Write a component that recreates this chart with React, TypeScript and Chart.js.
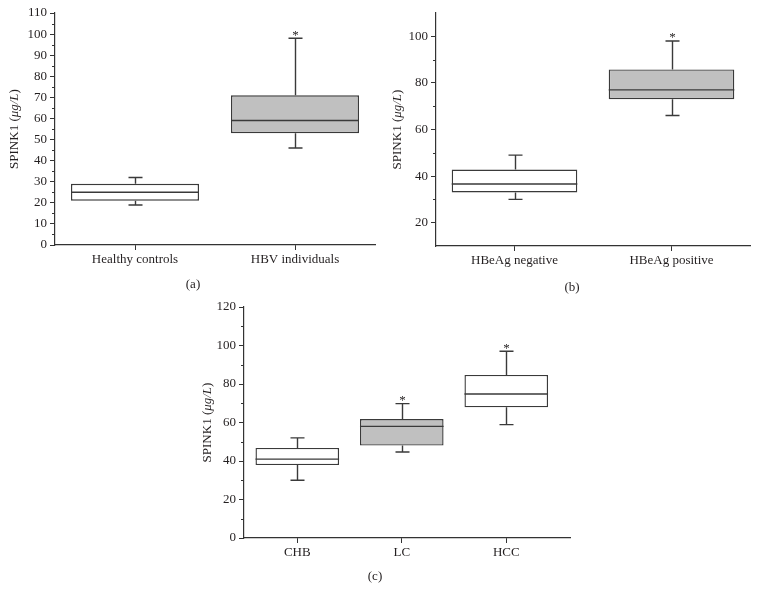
import React, { useEffect, useRef } from "react";
import { Chart, registerables } from "chart.js";
Chart.register(...registerables);

const FONT = "'Liberation Serif', 'Times New Roman', serif";
const TEXT = "#231f20";
const AXIS = "#333333";
const BOX_STROKE = "#3a3a3a";
const GRAY = "#c0c0c0";
const WHITE = "#ffffff";

// ---- Panel (a) ----
const aCategories = ["Healthy controls", "HBV individuals"];
const aMin = [19, 46];
const aQ1 = [21, 53];
const aMedian = [25, 59];
const aQ3 = [29, 71];
const aMax = [32, 98];
const aSignificant = [false, true];
const aYTicks = [0, 10, 20, 30, 40, 50, 60, 70, 80, 90, 100, 110];
const aYMinor = [5, 15, 25, 35, 45, 55, 65, 75, 85, 95, 105];

// ---- Panel (b) ----
const bCategories = ["HBeAg negative", "HBeAg positive"];
const bMin = [30, 66];
const bQ1 = [33, 73];
const bMedian = [36.6, 77];
const bQ3 = [42.8, 85.8];
const bMax = [49, 98];
const bSignificant = [false, true];
const bYTicks = [20, 40, 60, 80, 100];
const bYMinor = [30, 50, 70, 90];

// ---- Panel (c) ----
const cCategories = ["CHB", "LC", "HCC"];
const cMin = [30, 44.7, 58.9];
const cQ1 = [37.9, 48, 67.9];
const cMedian = [41, 58, 74.8];
const cQ3 = [46.8, 61.8, 84.7];
const cMax = [52, 69.8, 97];
const cSignificant = [false, true, true];
const cYTicks = [0, 20, 40, 60, 80, 100, 120];
const cYMinor = [10, 30, 50, 70, 90, 110];

type PanelDef = {
  key: string;
  left: number; top: number; width: number; height: number;
  area: { l: number; t: number; r: number; b: number };
  xMin: number; xMax: number; yMin: number; yMax: number;
  yTicks: number[]; yMinor: number[];
  categories: string[];
  min: number[]; q1: number[]; med: number[]; q3: number[]; max: number[];
  sig: boolean[]; fills: string[];
  label: string; labelX: number; labelY: number; titleOffset: number;
};

const panels: PanelDef[] = [
  {
    key: "a", left: 0, top: 0, width: 380, height: 300,
    area: { l: 55, t: 13, r: 375, b: 245 },
    xMin: 0.5, xMax: 2.5, yMin: 0, yMax: 110,
    yTicks: aYTicks, yMinor: aYMinor, categories: aCategories,
    min: aMin, q1: aQ1, med: aMedian, q3: aQ3, max: aMax,
    sig: aSignificant, fills: [WHITE, GRAY],
    label: "(a)", labelX: 193, labelY: 285, titleOffset: 40,
  },
  {
    key: "b", left: 380, top: 0, width: 378, height: 300,
    area: { l: 56, t: 13, r: 370, b: 246 },
    xMin: 0.5, xMax: 2.5, yMin: 10, yMax: 110,
    yTicks: bYTicks, yMinor: bYMinor, categories: bCategories,
    min: bMin, q1: bQ1, med: bMedian, q3: bQ3, max: bMax,
    sig: bSignificant, fills: [WHITE, GRAY],
    label: "(b)", labelX: 192, labelY: 288, titleOffset: 38,
  },
  {
    key: "c", left: 180, top: 290, width: 400, height: 311,
    area: { l: 64, t: 17, r: 390, b: 248 },
    xMin: 0.49, xMax: 3.61, yMin: 0, yMax: 120,
    yTicks: cYTicks, yMinor: cYMinor, categories: cCategories,
    min: cMin, q1: cQ1, med: cMedian, q3: cQ3, max: cMax,
    sig: cSignificant, fills: [WHITE, GRAY, WHITE],
    label: "(c)", labelX: 195, labelY: 287, titleOffset: 36,
  },
];

function makePlugin(p: PanelDef) {
  return {
    id: "boxExtras" + p.key,
    afterDatasetsDraw(chart: any) {
      const ctx = chart.ctx as CanvasRenderingContext2D;
      const ys = chart.scales.y;
      const ca = chart.chartArea;
      const meta = chart.getDatasetMeta(0);
      ctx.save();
      ctx.strokeStyle = BOX_STROKE;
      ctx.lineWidth = 1.4;
      p.categories.forEach((_, i) => {
        const bar: any = meta.data[i];
        const cx = Math.round(bar.x) + 0.5;
        const w = bar.width;
        const yq1 = ys.getPixelForValue(p.q1[i]);
        const yq3 = ys.getPixelForValue(p.q3[i]);
        const ymin = ys.getPixelForValue(p.min[i]);
        const ymax = ys.getPixelForValue(p.max[i]);
        const ymed = ys.getPixelForValue(p.med[i]);
        ctx.beginPath();
        ctx.moveTo(cx, yq3); ctx.lineTo(cx, ymax);
        ctx.moveTo(cx - 7, ymax); ctx.lineTo(cx + 7, ymax);
        ctx.moveTo(cx, yq1); ctx.lineTo(cx, ymin);
        ctx.moveTo(cx - 7, ymin); ctx.lineTo(cx + 7, ymin);
        ctx.moveTo(bar.x - w / 2, ymed); ctx.lineTo(bar.x + w / 2, ymed);
        ctx.stroke();
        if (p.sig[i]) {
          ctx.fillStyle = TEXT;
          ctx.font = "13px " + FONT;
          ctx.textAlign = "center";
          ctx.textBaseline = "alphabetic";
          ctx.fillText("*", cx, ymax + 0.5);
        }
      });
      // minor ticks
      ctx.strokeStyle = AXIS;
      ctx.lineWidth = 1;
      ctx.beginPath();
      p.yMinor.forEach((v) => {
        const y = Math.round(ys.getPixelForValue(v)) + 0.5;
        ctx.moveTo(ca.left - 3, y);
        ctx.lineTo(ca.left, y);
      });
      ctx.stroke();
      // y-axis title with italic unit
      ctx.fillStyle = TEXT;
      ctx.textBaseline = "middle";
      ctx.textAlign = "left";
      const normal = "13px " + FONT;
      const italic = "italic 13px " + FONT;
      const parts: [string, string][] = [["SPINK1 (", normal], ["\u03bcg/L", italic], [")", normal]];
      let total = 0;
      parts.forEach(([t, f]) => { ctx.font = f; total += ctx.measureText(t).width; });
      ctx.translate(ca.left - p.titleOffset, (ca.top + ca.bottom) / 2);
      ctx.rotate(-Math.PI / 2);
      let x = -total / 2;
      parts.forEach(([t, f]) => { ctx.font = f; ctx.fillText(t, x, 0); x += ctx.measureText(t).width; });
      ctx.restore();
      // panel label
      ctx.save();
      ctx.fillStyle = TEXT;
      ctx.font = "13px " + FONT;
      ctx.textAlign = "center";
      ctx.textBaseline = "middle";
      ctx.fillText(p.label, p.labelX, p.labelY);
      ctx.restore();
    },
  };
}

function buildConfig(p: PanelDef): any {
  const tickFont = { family: FONT, size: 13 };
  return {
    type: "bar",
    data: {
      datasets: [
        {
          data: p.categories.map((_, i) => ({ x: i + 1, y: [p.q1[i], p.q3[i]] })),
          backgroundColor: p.fills,
          borderColor: BOX_STROKE,
          borderWidth: 1.4,
          borderSkipped: false,
          barPercentage: 0.8,
          categoryPercentage: 1,
        },
      ],
    },
    options: {
      animation: false,
      responsive: false,
      maintainAspectRatio: false,
      layout: { padding: { left: 0, top: p.area.t, right: p.width - p.area.r, bottom: 0 } },
      plugins: { legend: { display: false }, tooltip: { enabled: false } },
      scales: {
        x: {
          type: "linear",
          min: p.xMin,
          max: p.xMax,
          offset: false,
          afterBuildTicks: (s: any) => { s.ticks = p.categories.map((_, i) => ({ value: i + 1 })); },
          ticks: {
            callback: (v: any) => p.categories[Math.round(Number(v)) - 1] ?? "",
            font: tickFont, color: TEXT, padding: 2, autoSkip: false, maxRotation: 0,
          },
          grid: { drawOnChartArea: false, drawTicks: true, tickLength: 5, tickColor: AXIS, offset: false },
          border: { display: true, color: AXIS, width: 1.2 },
          afterFit: (s: any) => { s.height = p.height - p.area.b; },
        },
        y: {
          type: "linear",
          min: p.yMin,
          max: p.yMax,
          afterBuildTicks: (s: any) => { s.ticks = p.yTicks.map((v) => ({ value: v })); },
          ticks: { font: tickFont, color: TEXT, padding: 3 },
          grid: { drawOnChartArea: false, drawTicks: true, tickLength: 5, tickColor: AXIS },
          border: { display: true, color: AXIS, width: 1.2 },
          afterFit: (s: any) => { s.width = p.area.l; },
        },
      },
    },
    plugins: [makePlugin(p)],
  };
}

function Panel({ p }: { p: PanelDef }) {
  const ref = useRef<HTMLCanvasElement | null>(null);
  useEffect(() => {
    const chart = new Chart(ref.current as HTMLCanvasElement, buildConfig(p));
    return () => chart.destroy();
  }, []);
  return (
    <canvas
      ref={ref}
      width={p.width}
      height={p.height}
      style={{ position: "absolute", left: p.left, top: p.top, width: p.width, height: p.height }}
    />
  );
}

export default function App() {
  return (
    <div style={{ position: "absolute", left: 0, top: 0, width: 758, height: 601, background: "#ffffff", overflow: "hidden" }}>
      {panels.map((p) => (
        <Panel key={p.key} p={p} />
      ))}
    </div>
  );
}
